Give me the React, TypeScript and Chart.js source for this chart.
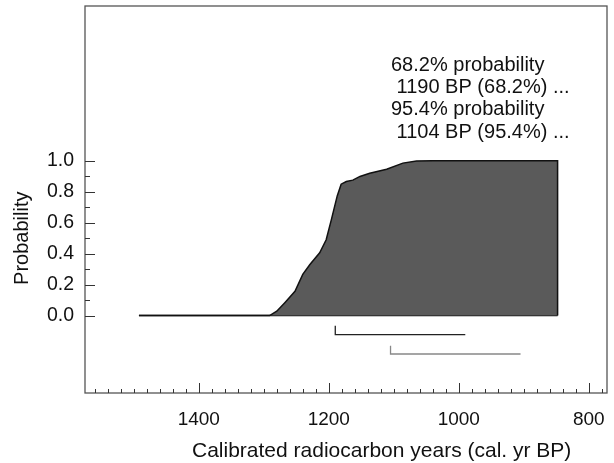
import { useEffect, useRef } from "react";
import { Chart, registerables } from "chart.js";

Chart.register(...registerables);

// ---- data ----
const curveYears = [1492, 1291, 1280, 1268, 1252, 1240, 1229, 1214, 1204, 1196, 1187, 1181, 1173, 1163, 1152, 1137, 1111, 1086, 1065, 1040, 848, 848];
const curveProb = [0, 0, 0.028, 0.082, 0.157, 0.266, 0.33, 0.406, 0.49, 0.62, 0.773, 0.849, 0.866, 0.875, 0.899, 0.92, 0.946, 0.985, 0.998, 1.0, 1.0, 0];
const baselineYears = [1492, 848];
const baselineProb = [0, 0];
const range68Years = [1190, 1190, 990];
const range68Levels = [-0.065, -0.123, -0.123];
const range95Years = [1105, 1105, 905];
const range95Levels = [-0.194, -0.248, -0.248];
const xMajorTicks = [1400, 1200, 1000, 800];
const xMinorTicks = [1560, 1540, 1520, 1500, 1480, 1460, 1440, 1420, 1380, 1360, 1340, 1320, 1300, 1280, 1260, 1240, 1220, 1180, 1160, 1140, 1120, 1100, 1080, 1060, 1040, 1020, 980, 960, 940, 920, 900, 880, 860, 840, 820, 780];
const yMajorTicks = [0, 0.2, 0.4, 0.6, 0.8, 1.0];
const yMinorTicks = [0.1, 0.3, 0.5, 0.7, 0.9];
const annotationLines = ["68.2% probability", " 1190 BP (68.2%) ...", "95.4% probability", " 1104 BP (95.4%) ..."];
const xTitle = "Calibrated radiocarbon years (cal. yr BP)";
const yTitle = "Probability";

const FONT = "'Liberation Sans', Arial, sans-serif";

const zip = (xs: number[], ys: number[]) => xs.map((x, i) => ({ x, y: ys[i] }));

const decorPlugin = {
  id: "decor",
  afterDraw(chart: any) {
    const { ctx, chartArea, scales } = chart;
    const xs = scales.x;
    const ys = scales.y;
    ctx.save();
    // frame
    ctx.strokeStyle = "#555";
    ctx.lineWidth = 1.3;
    ctx.strokeRect(chartArea.left, chartArea.top, chartArea.right - chartArea.left, chartArea.bottom - chartArea.top);
    // x ticks (inward, up from bottom)
    ctx.strokeStyle = "#333";
    ctx.lineWidth = 1;
    const drawX = (v: number, len: number) => {
      const px = Math.round(xs.getPixelForValue(v)) + 0.5;
      ctx.beginPath();
      ctx.moveTo(px, chartArea.bottom);
      ctx.lineTo(px, chartArea.bottom - len);
      ctx.stroke();
    };
    xMajorTicks.forEach((v) => drawX(v, 10));
    xMinorTicks.forEach((v) => drawX(v, 4));
    const drawY = (v: number, len: number) => {
      const py = Math.round(ys.getPixelForValue(v)) + 0.5;
      ctx.beginPath();
      ctx.moveTo(chartArea.left, py);
      ctx.lineTo(chartArea.left + len, py);
      ctx.stroke();
    };
    yMajorTicks.forEach((v) => drawY(v, 10));
    yMinorTicks.forEach((v) => drawY(v, 5));
    // titles
    ctx.fillStyle = "#111";
    ctx.font = `21px ${FONT}`;
    ctx.textAlign = "left";
    ctx.textBaseline = "alphabetic";
    ctx.fillText(xTitle, 192, 457);
    ctx.save();
    const yMid = (ys.getPixelForValue(0) + ys.getPixelForValue(1)) / 2;
    ctx.translate(28, yMid);
    ctx.rotate(-Math.PI / 2);
    ctx.font = `20px ${FONT}`;
    ctx.textAlign = "center";
    ctx.fillText(yTitle, 0, 0);
    ctx.restore();
    // annotation
    ctx.font = `20px ${FONT}`;
    ctx.textAlign = "left";
    annotationLines.forEach((t, i) => {
      ctx.fillText(t, 391, 71 + i * 22.2);
    });
    ctx.restore();
  },
};

const zeroPad = (s: any) => {
  s.paddingTop = 0;
  s.paddingBottom = 0;
  s.paddingLeft = 0;
  s.paddingRight = 0;
};

export default function App() {
  const ref = useRef<HTMLCanvasElement | null>(null);
  useEffect(() => {
    if (!ref.current) return;
    const chart = new Chart(ref.current, {
      type: "line",
      data: {
        datasets: [
          {
            data: zip(curveYears, curveProb),
            fill: "origin",
            backgroundColor: "#5a5a5a",
            borderColor: "#111",
            borderWidth: 1.5,
            pointRadius: 0,
            tension: 0,
          },
          {
            data: zip(baselineYears, baselineProb),
            fill: false,
            borderColor: "#111",
            borderWidth: 1.5,
            pointRadius: 0,
          },
          {
            data: zip(range68Years, range68Levels),
            fill: false,
            borderColor: "#222",
            borderWidth: 1.3,
            pointRadius: 0,
          },
          {
            data: zip(range95Years, range95Levels),
            fill: false,
            borderColor: "#888",
            borderWidth: 1.3,
            pointRadius: 0,
          },
        ],
      },
      options: {
        animation: false,
        responsive: true,
        maintainAspectRatio: false,
        layout: { padding: { top: 6, right: 7, left: 0, bottom: 0 } },
        plugins: { legend: { display: false }, tooltip: { enabled: false } },
        scales: {
          x: {
            type: "linear",
            reverse: true,
            min: 772,
            max: 1575,
            grid: { display: false, drawTicks: false },
            border: { display: false },
            afterBuildTicks: (s: any) => {
              s.ticks = xMajorTicks.map((v) => ({ value: v }));
            },
            afterFit: (s: any) => {
              s.height = 70;
              zeroPad(s);
            },
            ticks: {
              autoSkip: false,
              maxRotation: 0,
              padding: 15,
              color: "#111",
              font: { family: FONT, size: 19 },
              callback: (v: any) => String(v),
            },
          },
          y: {
            type: "linear",
            min: -0.5,
            max: 2.0,
            grid: { display: false, drawTicks: false },
            border: { display: false },
            afterBuildTicks: (s: any) => {
              s.ticks = yMajorTicks.map((v) => ({ value: v }));
            },
            afterFit: (s: any) => {
              s.width = 85;
              zeroPad(s);
            },
            ticks: {
              autoSkip: false,
              padding: 11,
              color: "#111",
              font: { family: FONT, size: 19.5 },
              callback: (v: any) => Number(v).toFixed(1),
            },
          },
        },
      },
      plugins: [decorPlugin],
    });
    return () => chart.destroy();
  }, []);
  return (
    <div style={{ position: "fixed", left: 0, top: 0, width: 614, height: 463, background: "#fff" }}>
      <canvas ref={ref} />
    </div>
  );
}
